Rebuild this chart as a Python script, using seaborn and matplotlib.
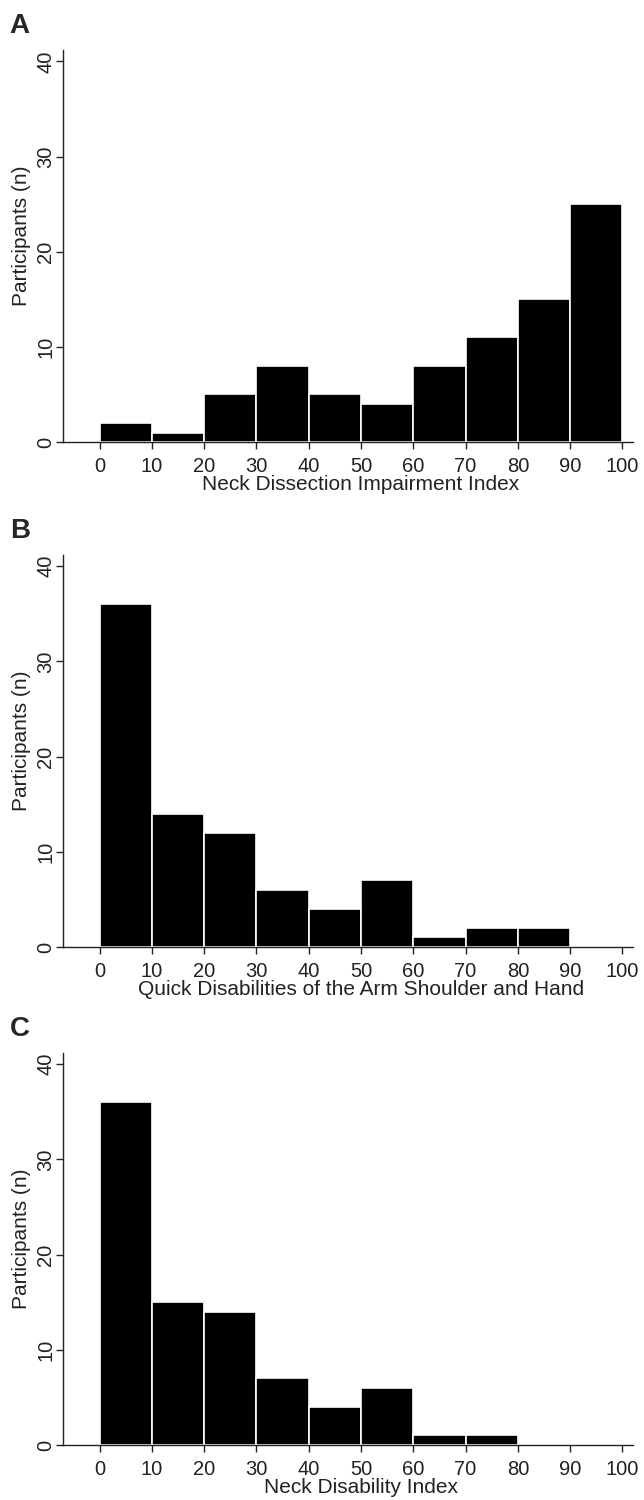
import numpy as np
import seaborn as sns
import matplotlib.pyplot as plt

# === Data: participants per 10-point score bin ===
bin_edges = [0, 10, 20, 30, 40, 50, 60, 70, 80, 90, 100]
bin_mids = [5, 15, 25, 35, 45, 55, 65, 75, 85, 95]

ndii_counts = [2, 1, 5, 8, 5, 4, 8, 11, 15, 25]
quickdash_counts = [36, 14, 12, 6, 4, 7, 1, 2, 2, 0]
ndi_counts = [36, 15, 14, 7, 4, 6, 1, 1, 0, 0]

panel_letters = ["A", "B", "C"]
x_labels = ["Neck Dissection Impairment Index",
            "Quick Disabilities of the Arm Shoulder and Hand",
            "Neck Disability Index"]
y_label = "Participants (n)"
x_ticks = [0, 10, 20, 30, 40, 50, 60, 70, 80, 90, 100]
y_ticks = [0, 10, 20, 30, 40]

sns.set_style("ticks")
plt.rcParams['font.family'] = ['Liberation Sans', 'DejaVu Sans']

fig = plt.figure(figsize=(6.44, 15), dpi=100)

bottoms = [0.7053, 0.3687, 0.0367]
all_counts = [ndii_counts, quickdash_counts, ndi_counts]

for letter, xlab, counts, b in zip(panel_letters, x_labels, all_counts, bottoms):
    ax = fig.add_axes([0.0978, b, 0.885, 0.2614])
    sns.histplot(x=bin_mids, weights=counts, bins=bin_edges, ax=ax,
                 color="black", edgecolor="white", linewidth=1.2, alpha=1)
    ax.set_xlim(-7, 102)
    ax.set_ylim(0, 41.2)
    ax.set_xticks(x_ticks)
    ax.set_yticks(y_ticks)
    ax.set_yticklabels([str(v) for v in y_ticks], rotation=90, va="center")
    ax.tick_params(axis="both", labelsize=14.5, length=5, width=1, color="#222222",
                   labelcolor="#222222")
    ax.tick_params(axis="x", pad=6)
    ax.tick_params(axis="y", pad=0.5)
    ax.set_xlabel(xlab, fontsize=15, color="#222222")
    ax.set_ylabel(y_label, fontsize=15, color="#222222")
    # labels centred on the 0-100 score range like the original
    ax.xaxis.set_label_coords((50 + 7) / 109, -0.085, transform=ax.transAxes)
    ax.yaxis.set_label_coords(-0.056, 21.7 / 41.2, transform=ax.transAxes)
    for s in ["left", "bottom"]:
        ax.spines[s].set_linewidth(1)
        ax.spines[s].set_color("#222222")
    sns.despine(ax=ax)
    fig.text(0.015, b + 0.2614 + 0.016, letter, fontsize=20, fontweight="bold",
             va="center", ha="left")

plt.savefig("out.png", dpi=100)
